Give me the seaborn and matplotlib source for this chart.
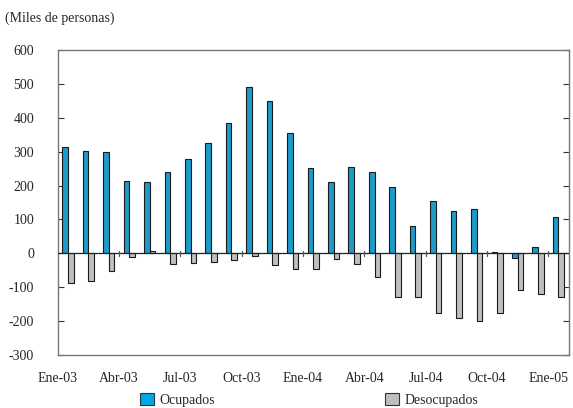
import numpy as np
import pandas as pd
import matplotlib
matplotlib.use("Agg")
import matplotlib.pyplot as plt
import seaborn as sns

# Monthly change, thousands of people
months = ["Ene-03", "Feb-03", "Mar-03", "Abr-03", "May-03", "Jun-03", "Jul-03", "Ago-03",
          "Sep-03", "Oct-03", "Nov-03", "Dic-03", "Ene-04", "Feb-04", "Mar-04", "Abr-04",
          "May-04", "Jun-04", "Jul-04", "Ago-04", "Sep-04", "Oct-04", "Nov-04", "Dic-04",
          "Ene-05"]
ocupados = [315, 303, 298, 213, 210, 239, 277, 325, 386, 490, 450, 355, 251,
            210, 254, 239, 196, 82, 153, 125, 131, 3, -15, 20, 106]
desocupados = [-87, -83, -52, -10, 6, -31, -28, -27, -20, -9, -33, -47, -45,
               -16, -31, -69, -129, -129, -176, -192, -200, -177, -108, -120, -129]
tick_labels = ["Ene-03", "Abr-03", "Jul-03", "Oct-03", "Ene-04",
               "Abr-04", "Jul-04", "Oct-04", "Ene-05"]

df = pd.DataFrame({"mes": months * 2,
                   "valor": ocupados + desocupados,
                   "serie": ["Ocupados"] * len(months) + ["Desocupados"] * len(months)})

sns.set_style("white")
plt.rcParams["font.family"] = ["Liberation Serif", "DejaVu Serif"]
plt.rcParams["axes.unicode_minus"] = False

fig, ax = plt.subplots(figsize=(5.73, 4.08), dpi=100)
fig.subplots_adjust(left=0.1007, right=0.9925, top=0.8775, bottom=0.1299)

sns.barplot(data=df, x="mes", y="valor", hue="serie", order=months,
            palette={"Ocupados": "#00A8E8", "Desocupados": "#BEBEC2"},
            width=0.55, edgecolor="#1a1a1a", linewidth=0.8, ax=ax)
ax.get_legend().remove()

ax.set_xlim(-0.5, len(months) - 0.5)
ax.set_ylim(-300, 600)
ax.set_yticks(np.arange(-300, 601, 100))
ax.set_xlabel("")
ax.set_ylabel("")

# zero line with small marks every quarter
ax.axhline(0, color="#222222", linewidth=0.9, zorder=3)
for b in np.arange(3, len(months), 3) - 0.5:
    ax.plot([b, b], [-8, 8], color="#555555", linewidth=0.9, zorder=3)

# quarter labels sit on the quarter boundaries
pos = np.arange(len(tick_labels)) * 3 - 0.5
ax.set_xticks(pos)
ax.set_xticklabels(tick_labels, fontsize=10)
ax.tick_params(axis="x", length=0, pad=12)
ax.tick_params(axis="y", direction="in", length=4, labelsize=10, pad=17,
               left=True, right=True, color="#333333")
for s in ax.spines.values():
    s.set_color("#777777")
    s.set_linewidth(1.0)

fig.text(0.008, 0.955, "(Miles de personas)", fontsize=10, va="center")

handles = [plt.Rectangle((0, 0), 1, 1, facecolor="#00A8E8", edgecolor="#333333", linewidth=0.8),
           plt.Rectangle((0, 0), 1, 1, facecolor="#BEBEC2", edgecolor="#333333", linewidth=0.8)]
fig.legend(handles, ["Ocupados", "Desocupados"], loc="center", ncol=2,
           bbox_to_anchor=(0.5395, 0.02), frameon=False, fontsize=10,
           columnspacing=12.2, handlelength=1.0, handleheight=1.0, handletextpad=0.4)

fig.savefig("out.png", dpi=100)
